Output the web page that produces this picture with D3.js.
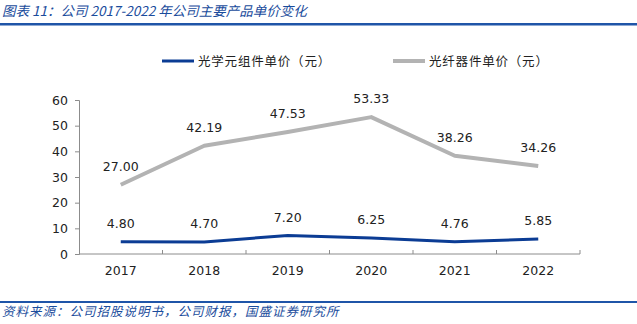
<!DOCTYPE html>
<html><head><meta charset="utf-8">
<script src="https://cdn.jsdelivr.net/npm/d3@7"></script>
<style>
html,body{margin:0;padding:0;background:#fff;}
svg{display:block;}
</style></head>
<body>
<script>
const years = ["2017","2018","2019","2020","2021","2022"];
const opticalComponent = [4.80, 4.70, 7.20, 6.25, 4.76, 5.85];
const fiberDevice = [27.00, 42.19, 47.53, 53.33, 38.26, 34.26];
const seriesNames = ["光学元组件单价（元）", "光纤器件单价（元）"];
const yTicks = [0, 10, 20, 30, 40, 50, 60];
const titleText = "图表 11：公司 2017-2022 年公司主要产品单价变化";
const sourceText = "资料来源：公司招股说明书，公司财报，国盛证券研究所";

const W = 637, H = 324;
const svg = d3.select("body").append("svg").attr("width", W).attr("height", H);

const numFont = "'DejaVu Sans', Verdana, sans-serif";
const cjkFont = "'Noto Sans CJK SC', sans-serif";

// Title
svg.append("text").attr("x", 2).attr("y", 16)
  .attr("font-family", cjkFont).attr("font-size", 13.5).attr("font-style", "italic")
  .attr("fill", "#1a4c9c").text(titleText);
svg.append("rect").attr("x", 0).attr("y", 23).attr("width", W).attr("height", 2.5).attr("fill", "#1f55a8");

// Footer
svg.append("rect").attr("x", 0).attr("y", 301).attr("width", W).attr("height", 2).attr("fill", "#1f55a8");
svg.append("text").attr("x", 2).attr("y", 316)
  .attr("font-family", cjkFont).attr("font-size", 12.5).attr("font-style", "italic")
  .attr("letter-spacing", 1).attr("fill", "#1a4c9c").text(sourceText);

const x = d3.scaleBand().domain(years).range([79, 580]);
const y = d3.scaleLinear().domain([0, 60]).range([254, 100]);
const axisColor = "#8c8c8c";

// Y axis
const yAxis = svg.append("g").attr("transform", "translate(79,0)")
  .call(d3.axisLeft(y).tickValues(yTicks).tickSize(4).tickPadding(7));
yAxis.select(".domain").attr("stroke", axisColor);
yAxis.selectAll(".tick line").attr("stroke", axisColor);
yAxis.selectAll("text").attr("font-family", numFont).attr("font-size", 12.5).attr("fill", "#222");

// X axis with inside ticks at band boundaries
const xg = svg.append("g").attr("transform", "translate(0,254)");
xg.append("line").attr("x1", 79).attr("x2", 580).attr("y1", 0).attr("y2", 0).attr("stroke", axisColor);
const bounds = years.map(d => x(d) + x.bandwidth());
xg.selectAll("line.tk").data(bounds).enter().append("line").attr("class", "tk")
  .attr("x1", d => d).attr("x2", d => d).attr("y1", -4).attr("y2", 0).attr("stroke", axisColor);
xg.selectAll("text").data(years).enter().append("text")
  .attr("x", d => x(d) + x.bandwidth() / 2).attr("y", 21)
  .attr("text-anchor", "middle").attr("font-family", numFont).attr("font-size", 12.5)
  .attr("fill", "#222").text(d => d);

const cx = d => x(d) + x.bandwidth() / 2;
const line = d3.line().x((d, i) => cx(years[i])).y(d => y(d));

const series = [
  { name: seriesNames[0], values: opticalComponent, color: "#0b3c94", width: 3 },
  { name: seriesNames[1], values: fiberDevice, color: "#b3b3b3", width: 4 }
];

series.forEach(s => {
  svg.append("path").datum(s.values).attr("d", line)
    .attr("fill", "none").attr("stroke", s.color).attr("stroke-width", s.width)
    .attr("stroke-linejoin", "round");
  svg.selectAll(null).data(s.values).enter().append("text")
    .attr("x", (d, i) => cx(years[i])).attr("y", d => y(d) - 14)
    .attr("text-anchor", "middle").attr("font-family", numFont).attr("font-size", 12.5)
    .attr("fill", "#222").text(d => d.toFixed(2));
});

// Legend
const legendPos = [{ x: 162, tx: 198 }, { x: 393, tx: 429 }];
series.forEach((s, i) => {
  const g = svg.append("g");
  g.append("line").attr("x1", legendPos[i].x).attr("x2", legendPos[i].x + 32)
    .attr("y1", 61).attr("y2", 61).attr("stroke", s.color).attr("stroke-width", s.width);
  g.append("text").attr("x", legendPos[i].tx).attr("y", 65.5)
    .attr("font-family", cjkFont).attr("font-size", 12.5).attr("letter-spacing", 0.8)
    .attr("fill", "#222").text(s.name);
});
</script>
</body></html>
